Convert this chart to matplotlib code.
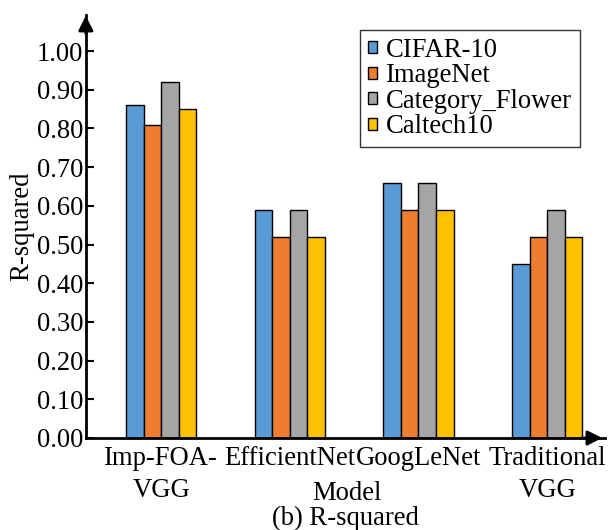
import matplotlib
matplotlib.use("Agg")
import matplotlib.pyplot as plt
import numpy as np

models = ["Imp-FOA-\nVGG", "EfficientNet", "GoogLeNet", "Traditional\nVGG"]
series_names = ["CIFAR-10", "ImageNet", "Category_Flower", "Caltech10"]
cifar = [0.86, 0.59, 0.66, 0.45]
imagenet = [0.81, 0.52, 0.59, 0.52]
flower = [0.92, 0.59, 0.66, 0.59]
caltech = [0.85, 0.52, 0.59, 0.52]
yticks = [0.0, 0.1, 0.2, 0.3, 0.4, 0.5, 0.6, 0.7, 0.8, 0.9, 1.0]
colors = ["#5B9BD5", "#ED7D31", "#A5A5A5", "#FFC000"]

plt.rcParams['font.family'] = ['Liberation Serif', 'DejaVu Serif']
FS = 19.2

fig = plt.figure(figsize=(6.13, 5.30), dpi=100)
ax = fig.add_axes([0.140, 0.1736, 0.847, 0.798])

x = np.arange(len(models))
w = 0.137
data = [cifar, imagenet, flower, caltech]
for i, (vals, name, c) in enumerate(zip(data, series_names, colors)):
    ax.bar(x + (i - 1.5) * w, vals, w, color=c, edgecolor="black",
           linewidth=1.0, label=name, zorder=2)

ax.set_xlim(-0.586, 3.45)
ax.set_ylim(0, 1.093)
ax.set_yticks(yticks)
ax.set_yticklabels([f"{v:.2f}" for v in yticks], fontsize=FS)
ax.set_xticks(x)
ax.set_xticklabels(models, fontsize=FS, linespacing=1.35)
ax.tick_params(axis='y', direction='in', length=6, width=1.5, pad=2)
ax.tick_params(axis='x', direction='in', length=3, width=1.5, pad=6)

for s in ["top", "right"]:
    ax.spines[s].set_visible(False)
for s in ["left", "bottom"]:
    ax.spines[s].set_linewidth(2)

# arrow heads
ax.annotate("", xy=(1.0, 0), xycoords='axes fraction', xytext=(0.95, 0),
            arrowprops=dict(arrowstyle='-|>', color='black', lw=2,
                            mutation_scale=22), annotation_clip=False)
ax.annotate("", xy=(0, 1.005), xycoords='axes fraction', xytext=(0, 0.95),
            arrowprops=dict(arrowstyle='-|>', color='black', lw=2,
                            mutation_scale=22), annotation_clip=False)

ax.set_ylabel("R-squared", fontsize=FS, labelpad=2)
fig.text(0.566, 0.069, "Model", fontsize=FS, ha='center', va='center')
fig.text(0.563, 0.021, "(b) R-squared", fontsize=FS, ha='center', va='center')

leg = ax.legend(loc='upper right', bbox_to_anchor=(0.952, 0.965), fontsize=FS,
                frameon=True, fancybox=False, edgecolor='black',
                handlelength=0.32, handleheight=0.32, handletextpad=0.35,
                labelspacing=0.02, borderpad=0.3, borderaxespad=0)
leg.get_frame().set_linewidth(1.0)

fig.savefig("out.png", dpi=100)
